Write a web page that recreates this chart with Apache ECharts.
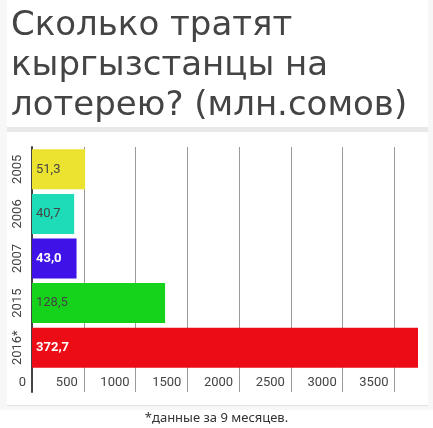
<!DOCTYPE html>
<html>
<head>
<meta charset="utf-8">
<script src="https://cdn.jsdelivr.net/npm/echarts@6/dist/echarts.min.js"></script>
<style>
  html, body { margin: 0; padding: 0; background: #fff; }
  .frame { position: absolute; left: 0; top: 0; width: 433px; height: 410px; background: #f7f7f7; }
  .card { position: absolute; left: 7px; top: 0; width: 421px; height: 405px; background: #fff; border-bottom: 1px solid #e2e2e2; }
  .sep { position: absolute; left: 7px; top: 127px; width: 421px; height: 5px; background: #e8e8e8; }
  #chart { position: absolute; left: 0; top: 0; width: 433px; height: 428px; }
</style>
</head>
<body>
<div class="frame"></div>
<div class="card"></div>
<div class="sep"></div>
<div id="chart"></div>
<script>
// данные
const years = ['2005', '2006', '2007', '2015', '2016*']
const amounts = [51.3, 40.7, 43.0, 128.5, 372.7]
const barColors = ['#ece331', '#1edcb7', '#3f12e8', '#15d31b', '#ec0c16']
const labelColors = ['#444', '#444', '#fff', '#444', '#fff']
const labelBold = [false, false, true, false, true]
// шкала на исходном графике подписана в 10 раз крупнее
const tickStep = 50
const tickFactor = 10

const chart = echarts.init(document.getElementById('chart'))

const valueAxis = {
  type: 'value',
  min: 0,
  max: 372.7,
  interval: tickStep,
  axisLine: { show: false },
  axisTick: { show: false },
  splitLine: {
    show: true,
    showMinLine: false,
    showMaxLine: false,
    lineStyle: { color: '#9a9a9a', width: 1 },
  },
}

chart.setOption({
  animation: false,
  title: [
    {
      text: 'Сколько тратят\nкыргызстанцы на\nлотерею? (млн.сомов)',
      left: 6,
      top: 1,
      textStyle: {
        fontFamily: 'DejaVu Sans',
        fontSize: 34,
        fontWeight: 'normal',
        lineHeight: 40,
        color: '#444',
      },
    },
    {
      text: '*данные за 9 месяцев.',
      left: 'center',
      top: 407,
      textStyle: {
        fontFamily: 'Noto Sans',
        fontSize: 13,
        fontWeight: 'normal',
        color: '#333',
      },
    },
  ],
  grid: [
    { left: 32, top: 147, width: 386, height: 223 },
    { left: 32, top: 370, width: 386, height: 22 },
  ],
  xAxis: [
    Object.assign({ gridIndex: 0, axisLabel: { show: false } }, valueAxis),
    Object.assign({}, valueAxis, {
      gridIndex: 1,
      position: 'top',
      axisLabel: {
        show: true,
        inside: true,
        margin: 6,
        align: 'right',
        padding: [0, 6, 0, 0],
        fontFamily: 'Roboto',
        fontSize: 13,
        color: '#444',
        formatter: (v) => (v % tickStep === 0 ? String(v * tickFactor) : ''),
      },
    }),
  ],
  yAxis: [
    {
      gridIndex: 0,
      type: 'category',
      data: years,
      inverse: true,
      axisLine: { show: true, lineStyle: { color: '#444', width: 2 } },
      axisTick: { show: false },
      axisLabel: {
        interval: 0,
        rotate: 90,
        margin: 8,
        fontFamily: 'Roboto',
        fontSize: 13,
        color: '#444',
      },
    },
    {
      gridIndex: 1,
      type: 'category',
      data: [''],
      axisLine: { show: true, lineStyle: { color: '#444', width: 2 } },
      axisTick: { show: false },
      axisLabel: { show: false },
    },
  ],
  series: [
    {
      type: 'bar',
      xAxisIndex: 0,
      yAxisIndex: 0,
      barWidth: 40,
      data: amounts.map((v, i) => ({
        value: v,
        itemStyle: { color: barColors[i] },
        label: {
          color: labelColors[i],
          fontWeight: labelBold[i] ? 'bold' : 'normal',
        },
      })),
      label: {
        show: true,
        position: 'insideLeft',
        distance: 4,
        fontFamily: 'Roboto',
        fontSize: 13,
        formatter: (p) => p.value.toFixed(1).replace('.', ','),
      },
    },
  ],
})
</script>
</body>
</html>
